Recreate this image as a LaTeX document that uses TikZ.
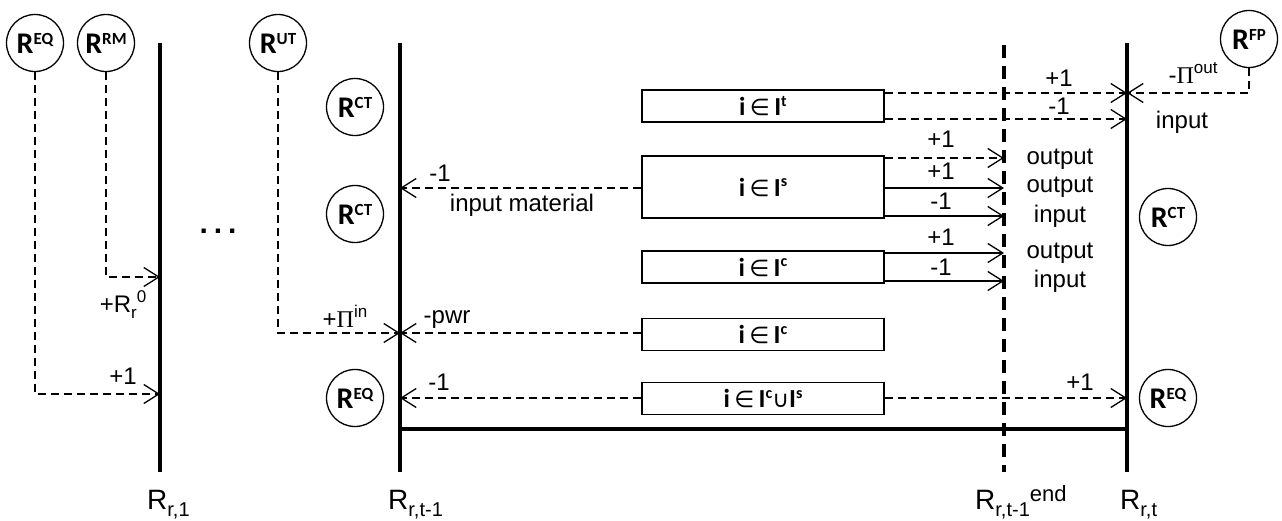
\documentclass[tikz,border=0pt]{standalone}
\usepackage{fontspec}
\setmainfont{Liberation Sans}
\newfontfamily\calib{Carlito}
\newfontfamily\symf{DejaVu Sans}
\newfontfamily\serf{Liberation Serif}
\usetikzlibrary{arrows.meta}

% superscript tag inside a resource circle
\newcommand{\restag}[1]{R\raisebox{0.3em}{\fontsize{17}{17}\selectfont #1}}
% superscript in a set label
\newcommand{\setsup}[1]{\raisebox{0.36em}{\fontsize{16}{16}\selectfont #1}}
\newcommand{\setsym}[1]{{\symf\mdseries\fontsize{23}{23}\selectfont #1}}

\begin{document}
\begin{tikzpicture}[x=1pt,y=-1pt,
  res/.style={circle,draw,line width=1.3pt,minimum size=57pt,inner sep=0pt,
    font=\calib\bfseries\fontsize{30}{30}\selectfont},
  setbox/.style={rectangle,draw,line width=1.3pt,minimum width=242pt,inner sep=0pt,
    font=\calib\bfseries\fontsize{26}{26}\selectfont},
  bar/.style={line width=4pt},
  dbar/.style={line width=4pt,dash pattern=on 13pt off 8pt},
  flow/.style={line width=1.3pt,-{Straight Barb[length=15pt,width=19pt]}},
  dflow/.style={flow,dash pattern=on 8pt off 5pt},
  lbl/.style={inner sep=0pt,font=\fontsize{24}{24}\selectfont},
  axis/.style={inner sep=0pt,anchor=base west,font=\fontsize{28}{28}\selectfont}
]
\useasboundingbox (0,0) rectangle (1282,520);

% time-period bars
\coordinate (v1t) at (160,43);  \coordinate (v1b) at (160,472);
\coordinate (v2t) at (400,43);  \coordinate (v2b) at (400,472);
\coordinate (v3t) at (1127,43); \coordinate (v3b) at (1127,472);
\coordinate (vdt) at (1004,45); \coordinate (vdb) at (1004,472);
\coordinate (hb) at (400,429);  \coordinate (he) at (1127,429);
\draw[bar] (v1t) -- (v1b);
\draw[bar] (v2t) -- (v2b);
\draw[bar] (v3t) -- (v3b);
\draw[dbar] (vdt) -- (vdb);
\draw[bar] (hb) -- (he);

% resources
\node[res] (req1) at (35,43)   {\restag{EQ}};
\node[res] (rrm)  at (106,43)  {\restag{RM}};
\node[res] (rut)  at (278,43)  {\restag{UT}};
\node[res] (rfp)  at (1249,39) {\restag{FP}};
\node[res] (rct1) at (355,107) {\restag{CT}};
\node[res] (rct2) at (355,214) {\restag{CT}};
\node[res] (req2) at (355,398) {\restag{EQ}};
\node[res] (rct3) at (1168,217) {\restag{CT}};
\node[res] (req3) at (1168,398) {\restag{EQ}};

% process sets
\node[setbox,minimum height=32pt] (it)  at (763,106)   {i\,\setsym{∈}\,I\setsup{t}};
\node[setbox,minimum height=62pt] (is)  at (763,187)   {i\,\setsym{∈}\,I\setsup{s}};
\node[setbox,minimum height=32pt] (ic1) at (763,267)   {i\,\setsym{∈}\,I\setsup{c}};
\node[setbox,minimum height=32pt] (ic2) at (763,334.5) {i\,\setsym{∈}\,I\setsup{c}};
\node[setbox,minimum height=32pt] (ics) at (763,398.5) {i\,\setsym{∈}\,I\setsup{c}\setsym{∪}I\setsup{s}};

% arrow ends on the bars
\coordinate (a1) at (1127,93);
\coordinate (a2) at (1127,119);
\coordinate (a3) at (1004,158);
\coordinate (a4) at (1004,188);
\coordinate (a5) at (1004,216);
\coordinate (a6) at (1004,253);
\coordinate (a7) at (1004,281);
\coordinate (a8) at (400,188);
\coordinate (a9) at (400,333);
\coordinate (a10) at (160,277);
\coordinate (a11) at (160,394);
\coordinate (a12) at (400,398);
\coordinate (a13) at (1127,398);

% flows
\draw[dflow] (it.east |- a1) -- (a1);
\draw[dflow] (it.east |- a2) -- (a2);
\draw[dflow] (rfp.south) |- (a1);
\draw[dflow] (is.east |- a3) -- (a3);
\draw[flow]  (is.east |- a4) -- (a4);
\draw[flow]  (is.east |- a5) -- (a5);
\draw[flow]  (ic1.east |- a6) -- (a6);
\draw[flow]  (ic1.east |- a7) -- (a7);
\draw[dflow] (is.west |- a8) -- (a8);
\draw[dflow] (ic2.west |- a9) -- (a9);
\draw[dflow] (rut.south) |- (a9);
\draw[dflow] (rrm.south) |- (a10);
\draw[dflow] (req1.south) |- (a11);
\draw[dflow] (ics.west |- a12) -- (a12);
\draw[dflow] (ics.east |- a13) -- (a13);

% coefficients and roles
\node[lbl] (l1)  at (1059,78)  {+1};
\node[lbl] (l2)  at (1059,106) {-1};
\node[lbl] (l3)  at (1193,73)  {-{\serf Π}\raisebox{0.42em}{\fontsize{17}{17}\selectfont out}};
\node[lbl] (l4)  at (1182,122) {input};
\node[lbl] (l5)  at (941,139)  {+1};
\node[lbl] (l6)  at (941,171)  {+1};
\node[lbl] (l7)  at (941,201)  {-1};
\node[lbl] (l8)  at (941,237)  {+1};
\node[lbl] (l9)  at (941,267)  {-1};
\node[lbl] (o1)  at (1060,159) {output};
\node[lbl] (o2)  at (1060,187) {output};
\node[lbl] (o3)  at (1060,216) {input};
\node[lbl] (o4)  at (1060,253) {output};
\node[lbl] (o5)  at (1060,281) {input};
\node[lbl] (l10) at (440,173)  {-1};
\node[lbl] (l11) at (522,205)  {input material};
\node[lbl] (l12) at (447,320)  {-pwr};
\node[lbl] (l13) at (345,316)  {+{\serf Π}\raisebox{0.42em}{\fontsize{17}{17}\selectfont in}};
\node[lbl] (l14) at (123,305)  {+R\raisebox{-0.25em}{\fontsize{17}{17}\selectfont r}\raisebox{0.42em}{\fontsize{17}{17}\selectfont 0}};
\node[lbl] (l15) at (123,376)  {+1};
\node[lbl] (l16) at (439,382)  {-1};
\node[lbl] (l17) at (1080,382) {+1};
\node[inner sep=0pt,font=\bfseries\fontsize{30}{30}\selectfont] (dots) at (218,231) {.\hspace{6pt}.\hspace{6pt}.};

% period labels
\node[axis] (p1) at (147,509)  {R\raisebox{-0.28em}{\fontsize{20}{20}\selectfont r,1}};
\node[axis] (p2) at (388,509)  {R\raisebox{-0.28em}{\fontsize{20}{20}\selectfont r,t-1}};
\node[axis] (p3) at (975,509)  {R\raisebox{-0.28em}{\fontsize{20}{20}\selectfont r,t-1}\raisebox{0.27em}{\fontsize{22}{22}\selectfont end}};
\node[axis] (p4) at (1120,509) {R\raisebox{-0.28em}{\fontsize{20}{20}\selectfont r,t}};
\end{tikzpicture}
\end{document}
